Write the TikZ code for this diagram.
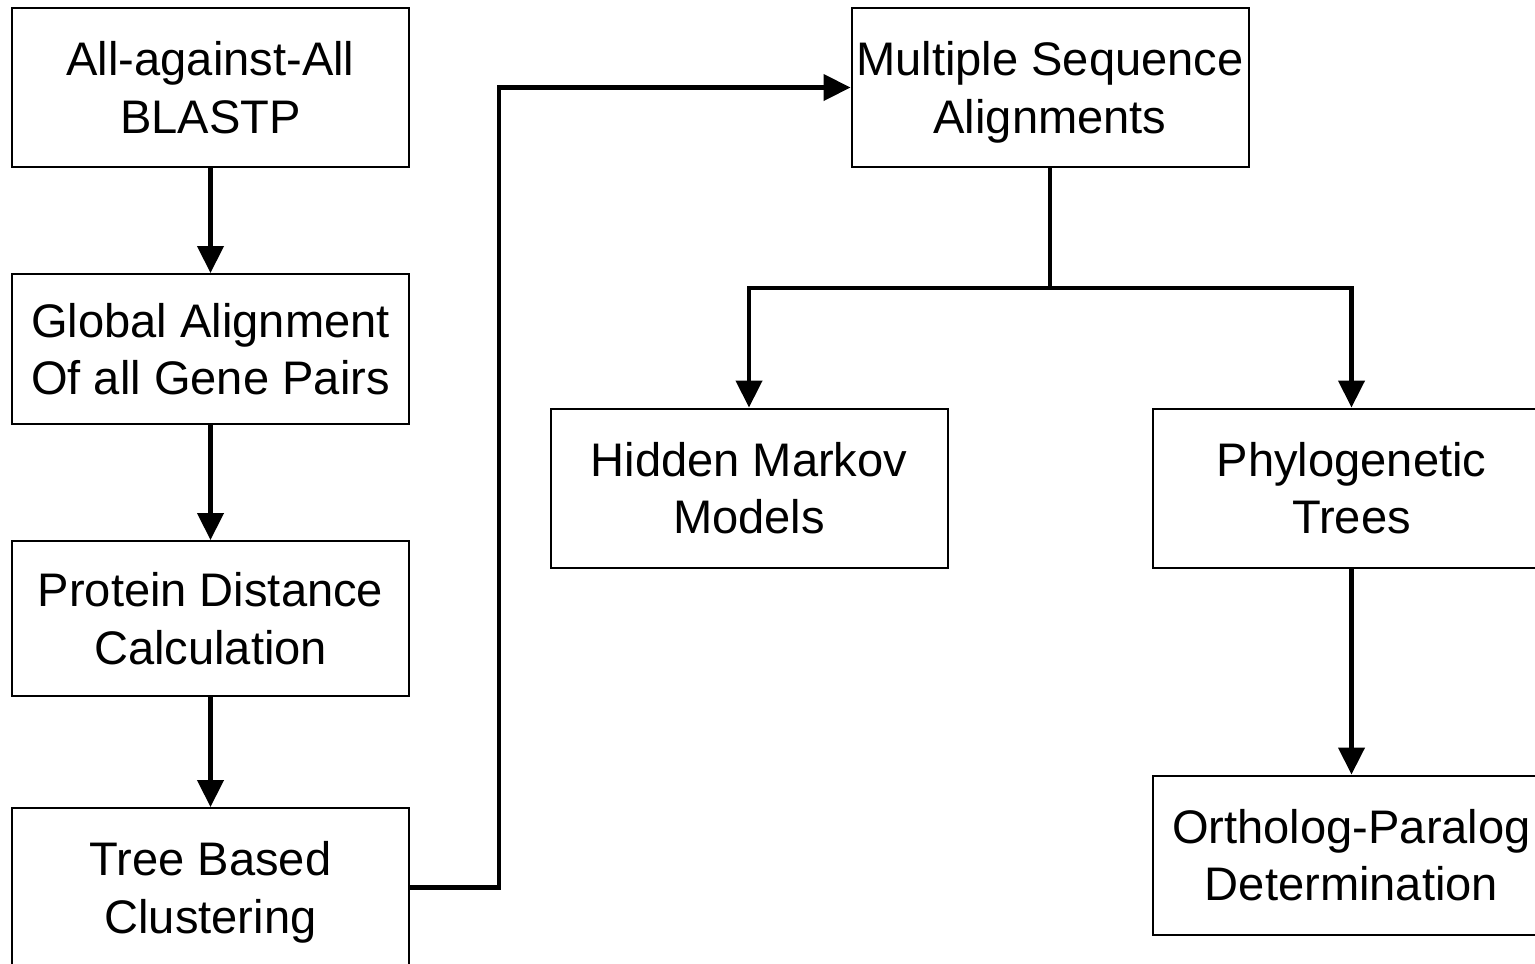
\documentclass[tikz,border=0pt]{standalone}
\usepackage{fontspec}
\setmainfont{Liberation Sans}
\usepackage{tikz}
\usetikzlibrary{positioning, arrows.meta, calc}

\tikzset{
  stage/.style={draw, line width=0.5mm, minimum width=99.25mm, minimum height=39.75mm,
                align=center, inner sep=0pt, text depth=0pt,
                font=\fontsize{33.5pt}{41pt}\selectfont},
  link/.style={line width=1.1mm},
  flow/.style={link, -{Triangle[length=6.75mm, width=6.5mm]}}
}

\begin{document}
\begin{tikzpicture}[x=0.25mm, y=-0.25mm]
  \useasboundingbox (0,0) rectangle (1535,963);
  % left column
  \node[stage] (blast) at (210.5,87.5) {All-against-All\\BLASTP};
  \node[stage, minimum height=37.5mm] (globalign) at (210.5,349) {Global Alignment\\Of all Gene Pairs};
  \node[stage, minimum height=38.75mm] (protdist) at (210.5,618.5) {Protein Distance\\Calculation};
  \node[stage] (treeclust) at (210.5,887.5) {Tree Based\\Clustering};
  % right part
  \node[stage] (msa) at (1050,87.5) {Multiple Sequence\\Alignments};
  \node[stage] (hmm) at (749,488) {Hidden Markov\\Models};
  \node[stage] (phylo) at (1351.5,488) {Phylogenetic\\Trees};
  \node[stage] (orthopara) at (1351.5,855) {Ortholog-Paralog\\Determination};
  % connectors
  \draw[flow] (blast) -- (globalign);
  \draw[flow] (globalign) -- (protdist);
  \draw[flow] (protdist) -- (treeclust);
  \draw[flow] (treeclust.east) -- ++(89,0) |- (msa.west);
  \coordinate (split) at ($(msa.south)+(0,120)$);
  \draw[link] (msa.south) -- (split);
  \draw[flow] (split) -| (hmm.north);
  \draw[flow] (split) -| (phylo.north);
  \draw[flow] (phylo) -- (orthopara);
\end{tikzpicture}
\end{document}
